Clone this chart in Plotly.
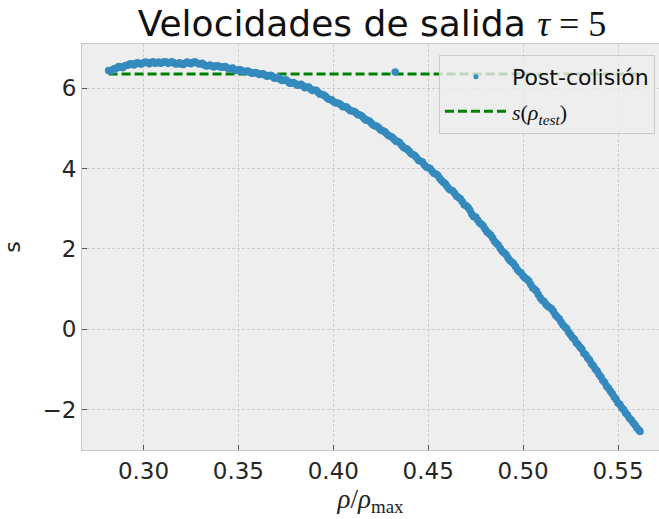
import plotly.graph_objects as go

# Post-collision exit speeds s against normalised density rho/rho_max (tau = 5)
rho_a = [
    0.2816, 0.2840, 0.2860, 0.2880, 0.2900, 0.2920, 0.2940, 0.2960, 0.2980, 0.3000,
    0.3020, 0.3040, 0.3060, 0.3080, 0.3100, 0.3120, 0.3140, 0.3160, 0.3180, 0.3200,
    0.3220, 0.3240, 0.3260, 0.3280, 0.3300, 0.3320, 0.3340, 0.3360, 0.3380, 0.3400,
    0.3420, 0.3440, 0.3460, 0.3480, 0.3500, 0.3520, 0.3540, 0.3560, 0.3580, 0.3600,
    0.3620, 0.3640, 0.3660, 0.3680, 0.3700, 0.3720, 0.3740, 0.3760, 0.3780, 0.3800,
    0.3820, 0.3840, 0.3860, 0.3880, 0.3900, 0.3920, 0.3940, 0.3960, 0.3980, 0.4000,
    0.4020, 0.4040, 0.4060, 0.4080, 0.4100, 0.4120, 0.4140, 0.4160, 0.4180, 0.4200,
    0.4220, 0.4240, 0.4260, 0.4280, 0.4300, 0.4320, 0.4326, 0.4340, 0.4360, 0.4380,
    0.4400, 0.4420, 0.4440, 0.4460, 0.4480, 0.4500, 0.4520, 0.4540, 0.4560, 0.4580,
    0.4600, 0.4620, 0.4640, 0.4660, 0.4680, 0.4700, 0.4720, 0.4740, 0.4760, 0.4780,
    0.4800, 0.4820, 0.4840, 0.4860, 0.4880, 0.4900, 0.4920, 0.4940, 0.4960, 0.4980,
    0.5000, 0.5020, 0.5040, 0.5060, 0.5080, 0.5100, 0.5120, 0.5140, 0.5160, 0.5180,
    0.5200, 0.5220, 0.5240, 0.5260, 0.5280, 0.5300, 0.5320, 0.5340, 0.5360, 0.5380,
    0.5400, 0.5420, 0.5440, 0.5460, 0.5480, 0.5500, 0.5520, 0.5540, 0.5560, 0.5580,
    0.5600, 0.5616,
]
s_post_a = [
    6.44, 6.47, 6.50, 6.53, 6.55, 6.58, 6.60, 6.62, 6.61, 6.63,
    6.64, 6.64, 6.62, 6.65, 6.64, 6.65, 6.64, 6.63, 6.61, 6.60,
    6.62, 6.63, 6.64, 6.63, 6.60, 6.58, 6.56, 6.55, 6.55, 6.54,
    6.53, 6.51, 6.49, 6.46, 6.45, 6.43, 6.42, 6.40, 6.38, 6.37,
    6.35, 6.33, 6.31, 6.29, 6.26, 6.22, 6.20, 6.17, 6.13, 6.11,
    6.08, 6.06, 6.02, 5.98, 5.95, 5.90, 5.84, 5.79, 5.72, 5.67,
    5.63, 5.59, 5.54, 5.48, 5.43, 5.39, 5.33, 5.26, 5.20, 5.13,
    5.06, 5.01, 4.94, 4.87, 4.80, 4.73, 6.40, 4.67, 4.58, 4.50,
    4.43, 4.35, 4.26, 4.18, 4.09, 4.02, 3.94, 3.86, 3.76, 3.66,
    3.55, 3.46, 3.38, 3.28, 3.17, 3.07, 2.96, 2.80, 2.72, 2.61,
    2.49, 2.38, 2.26, 2.13, 2.01, 1.90, 1.78, 1.67, 1.56, 1.43,
    1.32, 1.24, 1.11, 0.99, 0.86, 0.72, 0.62, 0.54, 0.44, 0.30,
    0.18, 0.05, -0.08, -0.21, -0.34, -0.45, -0.60, -0.72, -0.86, -0.99,
    -1.13, -1.28, -1.42, -1.55, -1.69, -1.84, -1.96, -2.09, -2.22, -2.33,
    -2.46, -2.55,
]
rho_b = [
    0.283, 0.285, 0.287, 0.289, 0.291, 0.293, 0.295, 0.297, 0.299, 0.301,
    0.303, 0.305, 0.307, 0.309, 0.311, 0.313, 0.315, 0.317, 0.319, 0.321,
    0.323, 0.325, 0.327, 0.329, 0.331, 0.333, 0.335, 0.337, 0.339, 0.341,
    0.343, 0.345, 0.347, 0.349, 0.351, 0.353, 0.355, 0.357, 0.359, 0.361,
    0.363, 0.365, 0.367, 0.369, 0.371, 0.373, 0.375, 0.377, 0.379, 0.381,
    0.383, 0.385, 0.387, 0.389, 0.391, 0.393, 0.395, 0.397, 0.399, 0.401,
    0.403, 0.405, 0.407, 0.409, 0.411, 0.413, 0.415, 0.417, 0.419, 0.421,
    0.423, 0.425, 0.427, 0.429, 0.431, 0.433, 0.435, 0.437, 0.439, 0.441,
    0.443, 0.445, 0.447, 0.449, 0.451, 0.453, 0.455, 0.457, 0.459, 0.461,
    0.463, 0.465, 0.467, 0.469, 0.471, 0.473, 0.475, 0.477, 0.479, 0.481,
    0.483, 0.485, 0.487, 0.489, 0.491, 0.493, 0.495, 0.497, 0.499, 0.501,
    0.503, 0.505, 0.507, 0.509, 0.511, 0.513, 0.515, 0.517, 0.519, 0.521,
    0.523, 0.525, 0.527, 0.529, 0.531, 0.533, 0.535, 0.537, 0.539, 0.541,
    0.543, 0.545, 0.547, 0.549, 0.551, 0.553, 0.555, 0.557, 0.559, 0.561,
]
s_post_b = [
    6.43, 6.49, 6.54, 6.51, 6.57, 6.61, 6.58, 6.63, 6.60, 6.65,
    6.61, 6.66, 6.63, 6.62, 6.66, 6.62, 6.66, 6.60, 6.63, 6.59,
    6.65, 6.61, 6.66, 6.61, 6.62, 6.55, 6.58, 6.53, 6.56, 6.52,
    6.54, 6.48, 6.50, 6.44, 6.46, 6.41, 6.43, 6.37, 6.39, 6.34,
    6.36, 6.30, 6.32, 6.25, 6.27, 6.19, 6.21, 6.12, 6.14, 6.07,
    6.10, 6.01, 6.03, 5.94, 5.95, 5.85, 5.83, 5.74, 5.71, 5.64,
    5.62, 5.54, 5.53, 5.44, 5.42, 5.34, 5.31, 5.21, 5.18, 5.08,
    5.05, 4.96, 4.92, 4.82, 4.78, 4.68, 4.64, 4.52, 4.48, 4.37,
    4.32, 4.20, 4.16, 4.04, 4.00, 3.88, 3.83, 3.70, 3.62, 3.49,
    3.44, 3.31, 3.24, 3.10, 3.03, 2.86, 2.79, 2.65, 2.57, 2.42,
    2.34, 2.18, 2.09, 1.94, 1.86, 1.71, 1.63, 1.48, 1.40, 1.27,
    1.20, 1.03, 0.95, 0.78, 0.69, 0.57, 0.51, 0.35, 0.26, 0.10,
    0.01, -0.14, -0.25, -0.38, -0.50, -0.64, -0.77, -0.91, -1.04, -1.19,
    -1.33, -1.47, -1.61, -1.75, -1.88, -2.01, -2.14, -2.26, -2.39, -2.51,
]

# Speed predicted at the test density
s_test = 6.35

x_ticks = [0.30, 0.35, 0.40, 0.45, 0.50, 0.55]
y_ticks = [-2, 0, 2, 4, 6]

BLUE = "#348ABD"
GREEN = "#008000"
SANS = "DejaVu Sans"
SERIF = "Liberation Serif"

rho = rho_a + rho_b
s_post = s_post_a + s_post_b

s_test_label = (f'<span style="font-family:{SERIF}">'
                '<i>s</i>(<i>ρ</i><sub><i>test</i></sub>)</span>')

fig = go.Figure()

fig.add_trace(go.Scatter(
    x=[min(rho), max(rho)], y=[s_test, s_test],
    mode="lines",
    line=dict(color=GREEN, width=3, dash="9px,4px"),
    name=s_test_label,
    showlegend=False,
))

fig.add_trace(go.Scatter(
    x=rho, y=s_post,
    mode="markers",
    marker=dict(color=BLUE, size=7.5, line=dict(width=0)),
    name="Post-colisión",
    showlegend=False,
))

# legend entries (small marker for the scatter, dashed line for s_test)
fig.add_trace(go.Scatter(
    x=[None], y=[None], mode="markers",
    marker=dict(color=BLUE, size=5),
    name="Post-colisión", legendgroup="a",
))
fig.add_trace(go.Scatter(
    x=[None], y=[None], mode="lines",
    line=dict(color=GREEN, width=3, dash="9px,4px"),
    name=s_test_label, legendgroup="b",
))

axis_common = dict(
    showgrid=True, gridcolor="#cdcdcd", griddash="3px,2px", gridwidth=1,
    ticks="inside", ticklen=5, tickwidth=1, tickcolor="#555555",
    showline=True, linecolor="#c8c8c8", linewidth=1,
    zeroline=False,
    tickfont=dict(family=SANS, size=23, color="#262626"),
)

fig.update_layout(
    width=659, height=519,
    margin=dict(l=82, r=0, t=44, b=69),
    paper_bgcolor="white",
    plot_bgcolor="#eeeeee",
    title=dict(
        text=f'Velocidades de salida <span style="font-family:{SERIF}"><i>τ</i> = 5</span>',
        x=372 / 659, xanchor="center", xref="container",
        y=1 - 23 / 519, yanchor="middle", yref="container",
        font=dict(family=SANS, size=36, color="#111111"),
    ),
    xaxis=dict(
        range=[0.2676, 0.5716],
        tickvals=x_ticks, ticktext=[f"{v:.2f}" for v in x_ticks],
        mirror=True,
        title=dict(
            text='<i>ρ</i>/<i>ρ</i><sub>max</sub>',
            font=dict(family=SERIF, size=27, color="#222222"),
            standoff=3,
        ),
        **axis_common,
    ),
    yaxis=dict(
        range=[-3.01, 7.10],
        tickvals=y_ticks,
        ticktext=[f"{v}".replace("-", "\u2212") for v in y_ticks],
        mirror=False,
        title=dict(text="s", font=dict(family=SANS, size=22, color="#222222"), standoff=18),
        **axis_common,
    ),
    legend=dict(
        x=0.993, xanchor="right", y=0.973, yanchor="top",
        bgcolor="rgba(238,238,238,0.8)",
        bordercolor="#cccccc", borderwidth=1,
        font=dict(family=SANS, size=22, color="#111111"),
        traceorder="grouped", tracegroupgap=3,
        itemwidth=62,
    ),
)

fig.write_html("out.html")
